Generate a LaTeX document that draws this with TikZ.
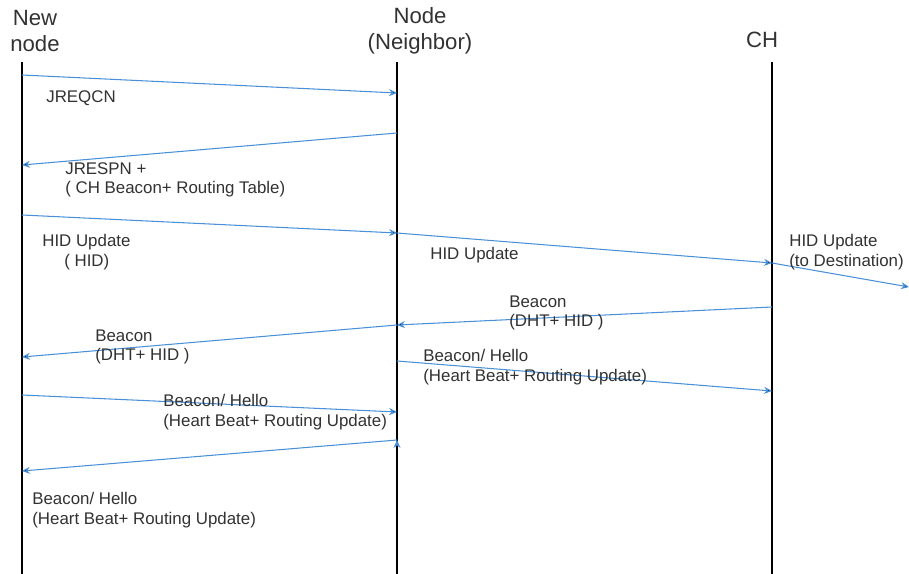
\documentclass[tikz,border=0pt]{standalone}
\usepackage{fontspec}
\setmainfont{Liberation Sans}
\usepackage{tikz}
\usetikzlibrary{arrows.meta, positioning}
\definecolor{msgblue}{RGB}{74,144,217}
\definecolor{txtgray}{RGB}{50,50,50}
\tikzset{
  lifeline/.style={draw=black, line width=1.1pt},
  head/.style={align=center, text=txtgray, font=\fontsize{12.6}{14.8}\selectfont, inner sep=0pt},
  msg/.style={draw=msgblue, line width=0.6pt, -{Stealth[length=4.5pt,width=4pt]}},
  lbl/.style={anchor=west, align=left, text=txtgray, font=\fontsize{9.6}{11}\selectfont, inner sep=0pt}
}
\begin{document}
\begin{tikzpicture}
	[x=0.02cm, y=-0.02cm]
   \useasboundingbox (0,0) rectangle (909,574);
   \node[head] (newh) at (35,31) {New\\node};
   \node[head] (nbrh) at (420,31) {Node\\(Neighbor)};
   \node[head] (chh) at (762,40) {CH};
   \draw[lifeline] (22,62) coordinate (newtop) -- (22,574) coordinate (newbot);
   \draw[lifeline] (397,62) coordinate (nbrtop) -- (397,574) coordinate (nbrbot);
   \draw[lifeline] (772,62) coordinate (chtop) -- (772,574) coordinate (chbot);
   % message end points
   \coordinate (new1) at (22,75);   \coordinate (nbr1) at (397,93);
   \coordinate (nbr2) at (397,133); \coordinate (new2) at (22,165);
   \coordinate (new3) at (22,215);  \coordinate (nbr3) at (397,233);
   \coordinate (ch3) at (772,263);  \coordinate (dest) at (909,287);
   \coordinate (ch4) at (772,307);  \coordinate (nbr4) at (397,325);
   \coordinate (new5) at (22,357);
   \coordinate (nbr6) at (397,361); \coordinate (ch6) at (772,391);
   \coordinate (new7) at (22,395);  \coordinate (nbr7) at (397,412);
   \coordinate (nbr8) at (397,440); \coordinate (new8) at (22,471);
    \path[msg]
    (new1) edge (nbr1)
    (nbr2) edge (new2)
    (new3) edge (nbr3)
    (nbr3) edge (ch3)
    (ch3) edge (dest)
    (ch4) edge (nbr4)
    (nbr4) edge (new5)
    (nbr6) edge (ch6)
    (new7) edge (nbr7)
    (nbr8) edge (new8);
   \node[lbl] (jreq) at (46,98) {JREQCN};
   \node[lbl] (jresp) at (65,180) {JRESPN +\\( CH Beacon+ Routing Table)};
   \node[lbl] (hid1) at (42,252) {HID Update\\\hspace{12.5pt}( HID)};
   \node[lbl] (hid2) at (430,255) {HID Update};
   \node[lbl] (hid3) at (789,252) {HID Update\\(to Destination)};
   \node[lbl] (bcn1) at (509,313) {Beacon\\(DHT+ HID )};
   \node[lbl] (bcn2) at (95,347) {Beacon\\(DHT+ HID )};
   \node[lbl] (hello1) at (423,367) {Beacon/ Hello\\(Heart Beat+ Routing Update)};
   \node[lbl] (hello2) at (163,412) {Beacon/ Hello\\(Heart Beat+ Routing Update)};
   \node[lbl] (hello3) at (32,510) {Beacon/ Hello\\(Heart Beat+ Routing Update)};

\end{tikzpicture}
\end{document}
